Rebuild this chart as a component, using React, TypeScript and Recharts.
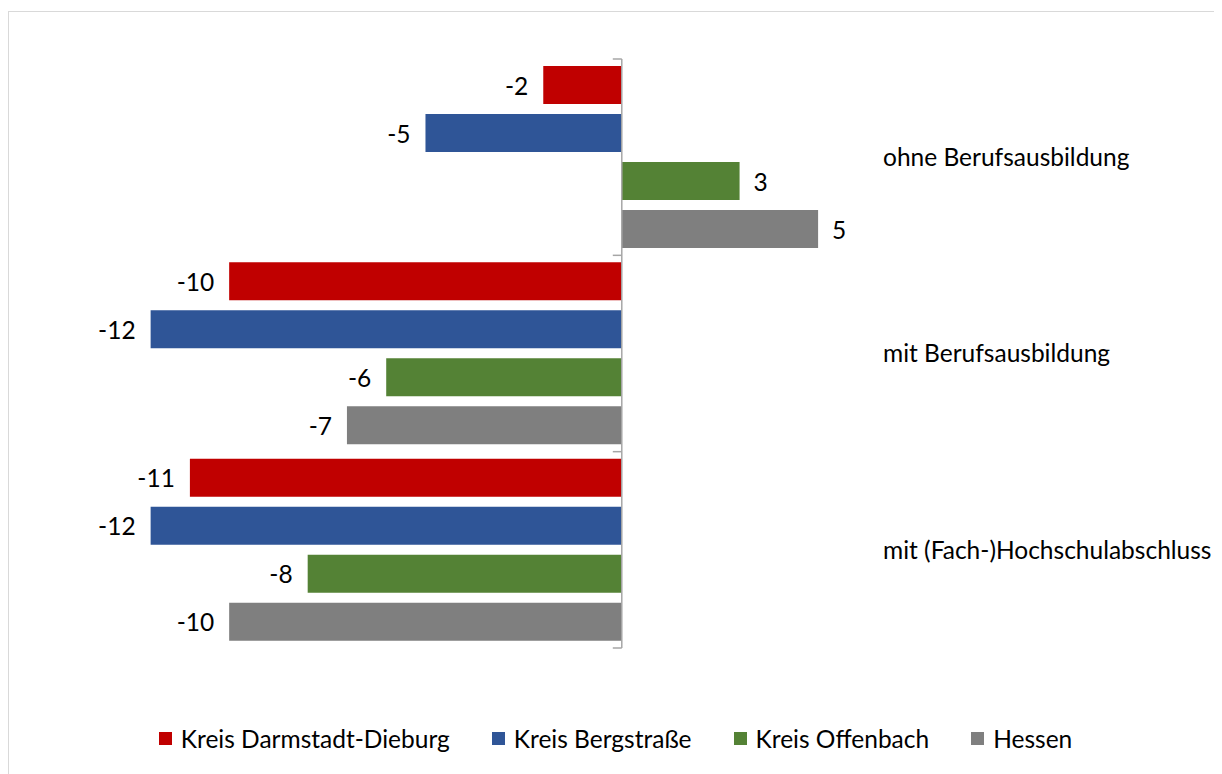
import React from "react"
import {
  BarChart,
  Bar,
  XAxis,
  YAxis,
  Legend,
  LabelList,
  ReferenceLine,
} from "recharts"

// Veränderung nach Qualifikation
const categories = [
  "ohne Berufsausbildung",
  "mit Berufsausbildung",
  "mit (Fach-)Hochschulabschluss",
]
const darmstadtDieburg = [-2, -10, -11]
const bergstrasse = [-5, -12, -12]
const offenbach = [3, -6, -8]
const hessen = [5, -7, -10]

const seriesNames = [
  "Kreis Darmstadt-Dieburg",
  "Kreis Bergstraße",
  "Kreis Offenbach",
  "Hessen",
]
const seriesColors = ["#c00000", "#2f5597", "#548235", "#7f7f7f"]

const data = categories.map((name, i) => ({
  name,
  s0: darmstadtDieburg[i],
  s1: bergstrasse[i],
  s2: offenbach[i],
  s3: hessen[i],
}))

const FONT = "Lato, 'Noto Sans', sans-serif"
const FONT_SIZE = 24.5

// Wertlabel: bei negativen Werten links vom Balkenende, sonst rechts
const ValueLabel = (props: any) => {
  const { x, y, width, height, value } = props
  const a = Number(x)
  const b = Number(x) + Number(width)
  const cy = Number(y) + Number(height) / 2
  if (value < 0) {
    return (
      <text
        x={Math.min(a, b) - 15}
        y={cy}
        textAnchor="end"
        dominantBaseline="central"
        fontSize={FONT_SIZE}
        fill="#000"
      >
        {value}
      </text>
    )
  }
  return (
    <text
      x={Math.max(a, b) + 14}
      y={cy}
      textAnchor="start"
      dominantBaseline="central"
      fontSize={FONT_SIZE}
      fill="#000"
    >
      {value}
    </text>
  )
}

// Nulllinie mit Teilstrichen zwischen den Kategorien
const ZeroAxis = (props: any) => {
  const { x1, y1, y2 } = props
  const n = categories.length
  const step = (y2 - y1) / n
  const ticks = []
  for (let i = 0; i <= n; i++) {
    const ty = y1 + i * step
    ticks.push(
      <line key={i} x1={x1 - 9} x2={x1} y1={ty} y2={ty} stroke="#a6a6a6" strokeWidth={1.5} />
    )
  }
  return (
    <g>
      <line x1={x1} x2={x1} y1={y1} y2={y2} stroke="#a6a6a6" strokeWidth={1.5} />
      {ticks}
    </g>
  )
}

const LegendContent = () => (
  <div
    style={{
      display: "flex",
      justifyContent: "center",
      alignItems: "center",
      gap: 42,
      fontSize: FONT_SIZE,
      fontFamily: FONT,
      color: "#000",
      paddingLeft: 4,
    }}
  >
    {seriesNames.map((n, i) => (
      <div key={n} style={{ display: "flex", alignItems: "center" }}>
        <span
          style={{
            display: "inline-block",
            width: 13,
            height: 13,
            background: seriesColors[i],
            marginRight: 9,
          }}
        />
        <span>{n}</span>
      </div>
    ))}
  </div>
)

export default function App() {
  return (
    <div
      style={{
        marginTop: 3,
        width: 1211,
        height: 770,
        border: "1px solid #d9d9d9",
        boxSizing: "border-box",
        fontFamily: FONT,
        background: "#fff",
      }}
    >
      <BarChart
        width={1209}
        height={760}
        data={data}
        layout="vertical"
        margin={{ top: 47, right: 21, bottom: 95, left: 122 }}
        barSize={38}
        barGap={10}
      >
        <XAxis type="number" domain={[-12.5, 6.5]} hide />
        <YAxis
          type="category"
          dataKey="name"
          orientation="right"
          width={320}
          axisLine={false}
          tickLine={false}
          tickSize={0}
          tickMargin={6}
          tick={{ fontSize: FONT_SIZE, fill: "#000", textAnchor: "start" }}
        />
        <Legend
          verticalAlign="bottom"
          content={<LegendContent />}
          wrapperStyle={{ bottom: 19, left: 0, width: 1209 }}
        />
        {["s0", "s1", "s2", "s3"].map((k, i) => (
          <Bar
            key={k}
            dataKey={k}
            name={seriesNames[i]}
            fill={seriesColors[i]}
            isAnimationActive={false}
          >
            <LabelList dataKey={k} content={<ValueLabel />} />
          </Bar>
        ))}
        <ReferenceLine x={0} shape={<ZeroAxis />} />
      </BarChart>
    </div>
  )
}
